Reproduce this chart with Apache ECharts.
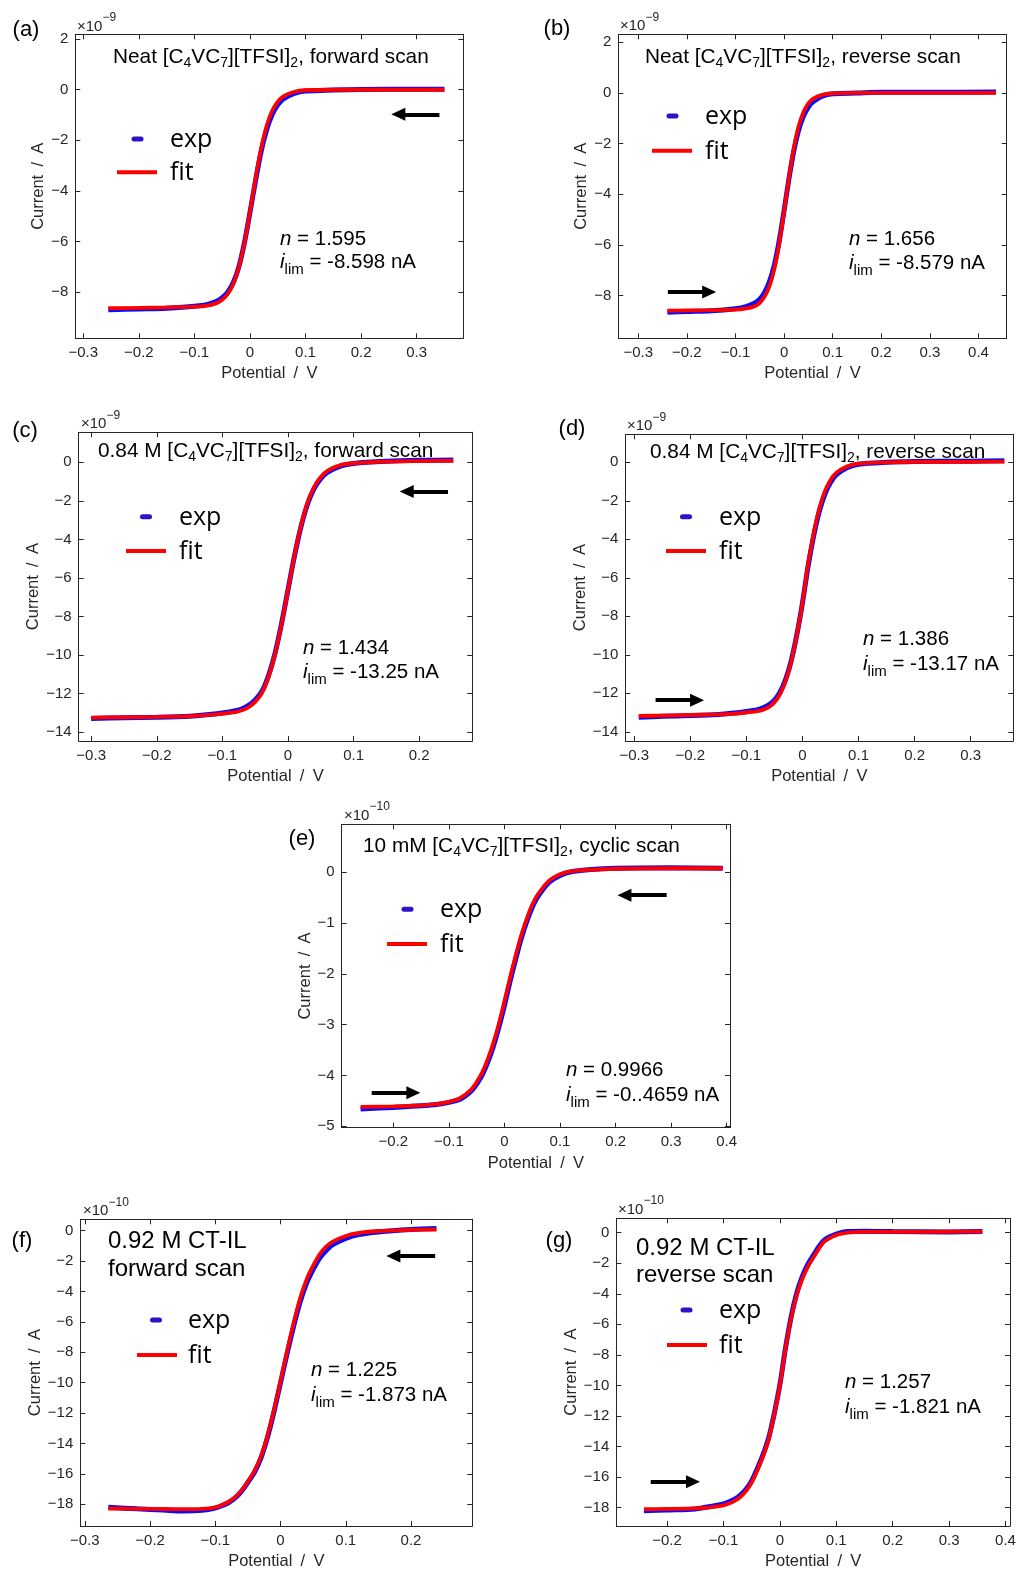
<!DOCTYPE html>
<html>
<head>
<meta charset="utf-8">
<script src="https://cdn.jsdelivr.net/npm/echarts@6/dist/echarts.min.js"></script>
<style>
  html, body { margin: 0; padding: 0; background: #ffffff; }
  #chart { width: 1018px; height: 1571px; }
</style>
</head>
<body>
<div id="chart"></div>
<script>
// ---------- Steady-state voltammograms: potential (V) vs current (scaled units) ----------

// (a) Neat, forward scan  (current ×1e-9 A)
const potentialA = [-0.255,-0.2,-0.15,-0.1,-0.08,-0.06,-0.05,-0.04,-0.03,-0.02,-0.01,0,0.01,0.02,0.03,0.04,0.05,0.06,0.08,0.1,0.15,0.2,0.3,0.35];
const fitA = [-8.63,-8.62,-8.6,-8.57,-8.54,-8.43,-8.3,-8.07,-7.67,-7.02,-6.06,-4.83,-3.51,-2.33,-1.43,-0.83,-0.47,-0.26,-0.08,-0.02,0,0,0,0];
const expA = [-8.69,-8.66,-8.63,-8.55,-8.5,-8.36,-8.22,-8.0,-7.62,-7.0,-6.05,-4.85,-3.6,-2.45,-1.58,-0.98,-0.6,-0.36,-0.14,-0.05,-0.01,0.01,0.02,0.02];

// (b) Neat, reverse scan  (×1e-9 A)
const potentialB = [-0.24,-0.2,-0.15,-0.1,-0.08,-0.06,-0.05,-0.04,-0.03,-0.02,-0.01,0,0.01,0.02,0.03,0.04,0.05,0.06,0.08,0.1,0.15,0.2,0.3,0.436];
const fitB = [-8.6,-8.59,-8.58,-8.56,-8.52,-8.42,-8.29,-8.04,-7.63,-6.95,-5.96,-4.69,-3.36,-2.19,-1.32,-0.76,-0.42,-0.23,-0.07,-0.02,0,0,0,0];
const expB = [-8.66,-8.63,-8.6,-8.52,-8.45,-8.3,-8.15,-7.88,-7.45,-6.8,-5.85,-4.65,-3.4,-2.3,-1.47,-0.92,-0.56,-0.34,-0.12,-0.04,-0.01,0.02,0.02,0.03];

// (c) 0.84 M, forward scan  (×1e-9 A)
const potentialC = [-0.3,-0.25,-0.2,-0.15,-0.12,-0.1,-0.08,-0.07,-0.06,-0.05,-0.04,-0.03,-0.02,-0.01,0,0.01,0.02,0.03,0.04,0.05,0.06,0.08,0.1,0.15,0.2,0.252];
const fitC = [-13.24,-13.22,-13.2,-13.16,-13.1,-13.03,-12.95,-12.86,-12.7,-12.42,-11.98,-11.17,-9.99,-8.43,-6.63,-4.82,-3.26,-2.08,-1.27,-0.76,-0.44,-0.15,-0.05,0.03,0.06,0.08];
const expC = [-13.28,-13.24,-13.22,-13.17,-13.08,-13.0,-12.88,-12.78,-12.6,-12.32,-11.9,-11.1,-9.95,-8.4,-6.62,-4.85,-3.32,-2.15,-1.35,-0.85,-0.52,-0.2,-0.06,0.05,0.1,0.12];

// (d) 0.84 M, reverse scan  (×1e-9 A)
const potentialD = [-0.292,-0.25,-0.2,-0.15,-0.12,-0.1,-0.08,-0.07,-0.06,-0.05,-0.04,-0.03,-0.02,-0.01,0,0.01,0.02,0.03,0.04,0.05,0.06,0.08,0.1,0.15,0.2,0.3,0.36];
const fitD = [-13.18,-13.16,-13.13,-13.1,-13.06,-13.0,-12.93,-12.85,-12.72,-12.48,-12.05,-11.36,-10.35,-8.97,-7.31,-5.3,-3.7,-2.4,-1.5,-0.92,-0.55,-0.2,-0.07,0.0,0.02,0.03,0.04];
const expD = [-13.25,-13.2,-13.16,-13.1,-13.02,-12.95,-12.85,-12.75,-12.6,-12.36,-11.95,-11.28,-10.3,-8.95,-7.3,-5.4,-3.82,-2.55,-1.65,-1.05,-0.66,-0.27,-0.1,0.0,0.04,0.06,0.08];

// (e) 10 mM, cyclic scan  (×1e-10 A)
const potentialE = [-0.259,-0.2,-0.15,-0.12,-0.1,-0.08,-0.06,-0.05,-0.04,-0.03,-0.02,-0.01,0,0.01,0.02,0.03,0.04,0.05,0.06,0.08,0.1,0.12,0.15,0.2,0.3,0.393];
const fitE = [-4.62,-4.61,-4.59,-4.56,-4.52,-4.45,-4.28,-4.13,-3.94,-3.68,-3.36,-2.98,-2.54,-2.08,-1.65,-1.25,-0.92,-0.64,-0.44,-0.17,-0.04,0.02,0.05,0.07,0.08,0.08];
const expE = [-4.66,-4.63,-4.6,-4.57,-4.53,-4.47,-4.31,-4.17,-3.99,-3.74,-3.43,-3.05,-2.62,-2.15,-1.72,-1.31,-0.97,-0.69,-0.48,-0.2,-0.06,0.01,0.05,0.08,0.09,0.08];

// (f) 0.92 M CT-IL, forward scan  (×1e-10 A)
const potentialF = [-0.264,-0.22,-0.18,-0.15,-0.12,-0.1,-0.09,-0.08,-0.07,-0.06,-0.05,-0.04,-0.03,-0.02,-0.01,0,0.01,0.02,0.03,0.04,0.05,0.06,0.07,0.08,0.1,0.12,0.15,0.2,0.239];
const fitF = [-18.28,-18.3,-18.31,-18.32,-18.3,-18.2,-18.05,-17.85,-17.55,-17.1,-16.5,-15.8,-14.85,-13.5,-11.8,-9.9,-7.95,-6.1,-4.45,-3.2,-2.3,-1.55,-1.05,-0.72,-0.35,-0.15,-0.02,0.05,0.08];
const expF = [-18.2,-18.3,-18.38,-18.45,-18.4,-18.25,-18.1,-17.9,-17.6,-17.15,-16.55,-15.9,-14.95,-13.6,-11.9,-10.0,-8.1,-6.3,-4.7,-3.45,-2.55,-1.8,-1.3,-0.92,-0.5,-0.25,-0.08,0.08,0.15];

// (g) 0.92 M CT-IL, reverse scan  (×1e-10 A)
const potentialG = [-0.241,-0.2,-0.15,-0.12,-0.1,-0.09,-0.08,-0.07,-0.06,-0.05,-0.04,-0.03,-0.02,-0.01,0,0.01,0.02,0.03,0.04,0.05,0.06,0.07,0.08,0.1,0.12,0.15,0.2,0.3,0.359];
const fitG = [-18.1,-18.08,-18.05,-17.97,-17.85,-17.72,-17.55,-17.3,-16.92,-16.35,-15.55,-14.65,-13.55,-11.9,-10.0,-7.6,-5.6,-4.08,-3.0,-2.2,-1.6,-1.0,-0.55,-0.15,0.0,0.05,0.05,0.06,0.07];
const expG = [-18.2,-18.15,-18.08,-17.9,-17.75,-17.62,-17.45,-17.18,-16.8,-16.25,-15.45,-14.55,-13.45,-11.85,-9.95,-7.55,-5.5,-3.95,-2.85,-2.05,-1.45,-0.88,-0.45,-0.1,0.08,0.1,0.07,0.05,0.07];

// ---------- Tick values ----------
const ticksPot3to3 = [-0.3,-0.2,-0.1,0,0.1,0.2,0.3];
const ticksPot3to4 = [-0.3,-0.2,-0.1,0,0.1,0.2,0.3,0.4];
const ticksPot3to2 = [-0.3,-0.2,-0.1,0,0.1,0.2];
const ticksPot2to4 = [-0.2,-0.1,0,0.1,0.2,0.3,0.4];
const ticksCur8to2 = [-8,-6,-4,-2,0,2];
const ticksCur14to0 = [-14,-12,-10,-8,-6,-4,-2,0];
const ticksCur5to0 = [-5,-4,-3,-2,-1,0];
const ticksCur18to0 = [-18,-16,-14,-12,-10,-8,-6,-4,-2,0];

// ---------- Text ----------
const panelTags = ['(a)','(b)','(c)','(d)','(e)','(f)','(g)'];
const titleLines = [
  ['Neat [C{s|4}VC{s|7}][TFSI]{s|2}, forward scan'],
  ['Neat [C{s|4}VC{s|7}][TFSI]{s|2}, reverse scan'],
  ['0.84 M [C{s|4}VC{s|7}][TFSI]{s|2}, forward scan'],
  ['0.84 M [C{s|4}VC{s|7}][TFSI]{s|2}, reverse scan'],
  ['10 mM [C{s|4}VC{s|7}][TFSI]{s|2}, cyclic scan'],
  ['0.92 M CT-IL', 'forward scan'],
  ['0.92 M CT-IL', 'reverse scan']
];
const nValues = ['1.595','1.656','1.434','1.386','0.9966','1.225','1.257'];
const ilimValues = ['-8.598','-8.579','-13.25','-13.17','-0..4659','-1.873','-1.821'];
const exponents = ['\u22129','\u22129','\u22129','\u22129','\u221210','\u221210','\u221210'];

// scan-direction arrows: [tail, head] in (potential, current)
const arrowsA = [[[0.341,-0.97],[0.267,-0.97]]];
const arrowsB = [[[-0.239,-7.86],[-0.154,-7.86]]];
const arrowsC = [[[0.244,-1.52],[0.181,-1.52]]];
const arrowsD = [[[-0.262,-12.36],[-0.188,-12.36]]];
const arrowsE = [[[0.292,-0.45],[0.216,-0.45]],[[-0.239,-4.34],[-0.164,-4.34]]];
const arrowsF = [[[0.237,-1.67],[0.173,-1.67]]];
const arrowsG = [[[-0.229,-16.3],[-0.154,-16.3]]];

// ---------- Panel layout (pixels) ----------
const layout = [
  { box:[75.3,34.3,388,304],   xr:[-0.3144,0.384], yr:[-9.82,2.19],  yGap:27, tag:[26,30],   exp10:[77,27],
    title:[113,[57]], ann:[280,239,262], leg:{ex:137.5, ey:139, fx:117, fw:40, fy:172.3, tx:170} },
  { box:[618.3,34.3,388.4,304], xr:[-0.341,0.458], yr:[-9.69,2.31],  yGap:27, tag:[557,29],  exp10:[620,26.2],
    title:[645,[57]], ann:[849,239,263], leg:{ex:672.5, ey:116, fx:652, fw:40, fy:150.7, tx:705} },
  { box:[78.7,432.3,393.6,308.7], xr:[-0.319,0.281], yr:[-14.45,1.555], yGap:35, tag:[25,431], exp10:[81,424.2],
    title:[98,[451]], ann:[303,648,672], leg:{ex:146, ey:516.7, fx:126, fw:40, fy:551, tx:179} },
  { box:[625.3,434.3,388,306.7], xr:[-0.316,0.376], yr:[-14.48,1.455], yGap:34, tag:[572,429], exp10:[627,426.2],
    title:[650,[452]], ann:[863,639,664], leg:{ex:686, ey:516.7, fx:666, fw:40, fy:551, tx:719} },
  { box:[341.7,824.3,388.3,303.4], xr:[-0.293,0.406], yr:[-5.03,0.946], yGap:27, tag:[302,839], exp10:[344,815.8],
    title:[363,[846]], ann:[566,1070,1095], leg:{ex:407.5, ey:909.3, fx:387, fw:40, fy:944, tx:440} },
  { box:[80.3,1219.3,392,306.7], xr:[-0.307,0.294], yr:[-19.43,0.75], yGap:34, tag:[22,1241], exp10:[83,1211.2],
    title:[108,[1241.5,1269.5]], ann:[311,1370,1395], leg:{ex:156, ey:1320, fx:137, fw:40, fy:1355, tx:188} },
  { box:[616.3,1218.3,393.7,307.7], xr:[-0.290,0.408], yr:[-19.2,0.94], yGap:34, tag:[559,1241], exp10:[618,1209.5],
    title:[636,[1248.5,1275.5]], ann:[845,1382,1407], leg:{ex:686.5, ey:1310, fx:667, fw:40, fy:1345, tx:719} }
];

const panels = [
  { pot: potentialA, fit: fitA, exp: expA, xTicks: ticksPot3to3, yTicks: ticksCur8to2,  arrows: arrowsA },
  { pot: potentialB, fit: fitB, exp: expB, xTicks: ticksPot3to4, yTicks: ticksCur8to2,  arrows: arrowsB },
  { pot: potentialC, fit: fitC, exp: expC, xTicks: ticksPot3to2, yTicks: ticksCur14to0, arrows: arrowsC },
  { pot: potentialD, fit: fitD, exp: expD, xTicks: ticksPot3to3, yTicks: ticksCur14to0, arrows: arrowsD },
  { pot: potentialE, fit: fitE, exp: expE, xTicks: ticksPot2to4, yTicks: ticksCur5to0,  arrows: arrowsE },
  { pot: potentialF, fit: fitF, exp: expF, xTicks: ticksPot3to2, yTicks: ticksCur18to0, arrows: arrowsF },
  { pot: potentialG, fit: fitG, exp: expG, xTicks: ticksPot2to4, yTicks: ticksCur18to0, arrows: arrowsG }
];

// ---------- Styling ----------
const AXIS_COLOR = '#262626';
const SANS = 'Liberation Sans';
const LEGEND_FONT = 'Open Sans';
const EXP_COLOR = '#0a0aff';
const EXP_MARK = '#3010c8';
const FIT_COLOR = '#ff0000';

function tickText(v) {
  const r = Math.round(v * 100) / 100;
  if (r === 0) return '0';
  return r < 0 ? '\u2212' + Math.abs(r) : String(r);
}
function pairs(xs, ys) { return xs.map((x, i) => [x, ys[i]]); }

function richText(x, y, text, size, lineHeight, rich, align) {
  return {
    type: 'text', x: x, y: y, silent: true, z: 100,
    style: {
      text: text, fill: '#000', fontSize: size, fontFamily: SANS,
      lineHeight: lineHeight, align: align || 'left', verticalAlign: 'middle', rich: rich || {}
    }
  };
}

const option = { animation: false, backgroundColor: '#fff', grid: [], xAxis: [], yAxis: [], series: [], graphic: [] };

panels.forEach((p, i) => {
  const L = layout[i];
  option.grid.push({ left: L.box[0], top: L.box[1], width: L.box[2], height: L.box[3],
                     containLabel: false, outerBoundsMode: 'none' });
  const xi = option.xAxis.length;
  const yi = option.yAxis.length;
  const lineStyle = { color: AXIS_COLOR, width: 1 };
  const tickBase = { inside: true, length: 5, lineStyle: { color: AXIS_COLOR, width: 1 } };
  const labelBase = { formatter: tickText, color: AXIS_COLOR, fontSize: 15, fontFamily: SANS, margin: 7 };
  const nameStyle = { color: AXIS_COLOR, fontSize: 16.5, fontFamily: SANS };

  option.xAxis.push({
    gridIndex: i, type: 'value', position: 'bottom', min: L.xr[0], max: L.xr[1],
    axisLine: { onZero: false, lineStyle: lineStyle },
    axisTick: Object.assign({ customValues: p.xTicks }, tickBase),
    axisLabel: Object.assign({ customValues: p.xTicks }, labelBase),
    splitLine: { show: false },
    name: 'Potential\u2002/\u2002V', nameLocation: 'middle', nameGap: 27, nameTextStyle: nameStyle
  });
  option.xAxis.push({
    gridIndex: i, type: 'value', position: 'top', min: L.xr[0], max: L.xr[1],
    axisLine: { onZero: false, lineStyle: lineStyle },
    axisTick: Object.assign({ customValues: p.xTicks }, tickBase),
    axisLabel: { show: false }, splitLine: { show: false }
  });
  option.yAxis.push({
    gridIndex: i, type: 'value', position: 'left', min: L.yr[0], max: L.yr[1],
    axisLine: { onZero: false, lineStyle: lineStyle },
    axisTick: Object.assign({ customValues: p.yTicks }, tickBase),
    axisLabel: Object.assign({ customValues: p.yTicks }, labelBase),
    splitLine: { show: false },
    name: 'Current\u2002/\u2002A', nameLocation: 'middle', nameGap: L.yGap, nameTextStyle: nameStyle
  });
  option.yAxis.push({
    gridIndex: i, type: 'value', position: 'right', min: L.yr[0], max: L.yr[1],
    axisLine: { onZero: false, lineStyle: lineStyle },
    axisTick: Object.assign({ customValues: p.yTicks }, tickBase),
    axisLabel: { show: false }, splitLine: { show: false }
  });

  option.series.push({
    type: 'line', name: 'exp', xAxisIndex: xi, yAxisIndex: yi, data: pairs(p.pot, p.exp),
    showSymbol: false, smooth: 0.3, silent: true, z: 2,
    lineStyle: { color: EXP_COLOR, width: 5 }
  });
  option.series.push({
    type: 'line', name: 'fit', xAxisIndex: xi, yAxisIndex: yi, data: pairs(p.pot, p.fit),
    showSymbol: false, smooth: 0.3, silent: true, z: 3,
    lineStyle: { color: FIT_COLOR, width: 3.8 },
    markLine: {
      silent: true, animation: false, symbol: ['none', 'triangle'], symbolSize: [13, 14],
      label: { show: false },
      lineStyle: { color: '#000', width: 4, type: 'solid' },
      data: p.arrows.map(a => [{ coord: a[0] }, { coord: a[1] }])
    }
  });

  // panel tag
  option.graphic.push(richText(L.tag[0], L.tag[1], panelTags[i], 22, 26, {}, 'center'));

  // ×10^n scale note
  option.graphic.push({
    type: 'text', x: L.exp10[0], y: L.exp10[1], silent: true, z: 100,
    style: {
      text: '\u00d710{sup|' + exponents[i] + '}', fill: AXIS_COLOR, fontSize: 15, fontFamily: SANS,
      lineHeight: 30, align: 'left', verticalAlign: 'middle',
      rich: { sup: { fontSize: 12, lineHeight: 12, verticalAlign: 'top', fontFamily: SANS, fill: AXIS_COLOR } }
    }
  });

  // condition title (one or two lines)
  const tl = titleLines[i];
  const titleSize = tl.length > 1 ? 24 : 20.8;
  const subRich = { s: { fontSize: 14, lineHeight: 14, verticalAlign: 'bottom', fontFamily: SANS, fill: '#000' } };
  tl.forEach((line, k) => {
    option.graphic.push(richText(L.title[0], L.title[1][k], line, titleSize, 26, subRich));
  });

  // fit parameters
  const annRich = {
    it: { fontStyle: 'italic', fontSize: 20.5, lineHeight: 30, fontFamily: SANS, fill: '#000' },
    s: { fontSize: 15, lineHeight: 15, verticalAlign: 'bottom', fontFamily: SANS, fill: '#000' }
  };
  option.graphic.push(richText(L.ann[0], L.ann[1], '{it|n} = ' + nValues[i], 20.5, 30, annRich));
  option.graphic.push(richText(L.ann[0], L.ann[2], '{it|i}{s|lim} = ' + ilimValues[i] + ' nA', 20.5, 30, annRich));

  // legend
  const g = L.leg;
  option.graphic.push({ type: 'rect', silent: true, z: 100,
    shape: { x: g.ex - 6, y: g.ey - 2.5, width: 12, height: 5, r: 2.5 }, style: { fill: EXP_MARK } });
  option.graphic.push({ type: 'rect', silent: true, z: 100,
    shape: { x: g.fx, y: g.fy - 2, width: g.fw, height: 4 }, style: { fill: FIT_COLOR } });
  option.graphic.push({ type: 'text', x: g.tx, y: g.ey + 1, silent: true, z: 100,
    style: { text: 'exp', fill: '#000', fontSize: 25, fontFamily: LEGEND_FONT, align: 'left', verticalAlign: 'middle' } });
  option.graphic.push({ type: 'text', x: g.tx, y: g.fy + 1, silent: true, z: 100,
    style: { text: 'fit', fill: '#000', fontSize: 25, fontFamily: LEGEND_FONT, align: 'left', verticalAlign: 'middle' } });
});

const chart = echarts.init(document.getElementById('chart'), null, { renderer: 'canvas' });
chart.setOption(option);
</script>
</body>
</html>
